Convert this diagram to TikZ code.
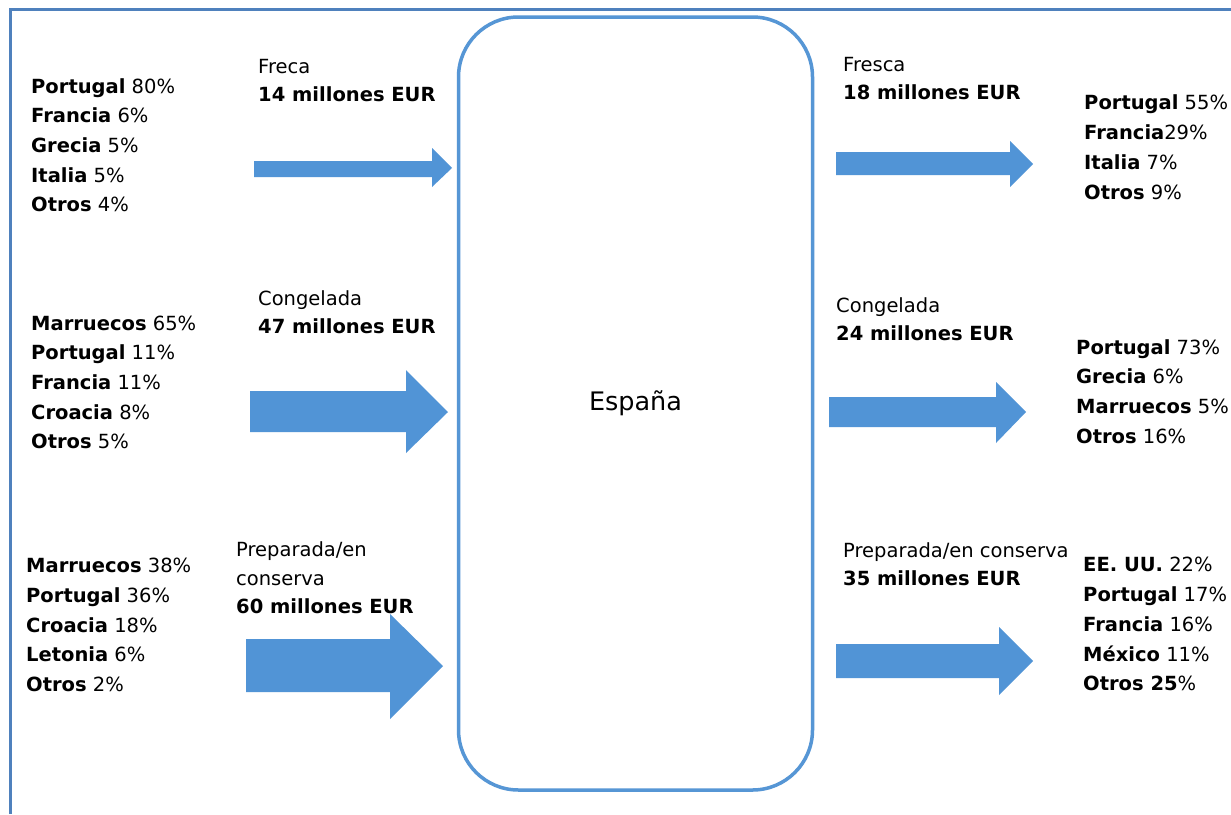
\documentclass[tikz,border=0pt]{standalone}
\usepackage{fontspec}
\setmainfont{DejaVu Sans}
\definecolor{framec}{RGB}{79,129,189}
\definecolor{boxc}{RGB}{86,150,213}
\definecolor{arrc}{RGB}{81,148,214}
\begin{document}
\begin{tikzpicture}[x=1pt,y=-1pt,
  lst/.style={anchor=base west,align=left,inner sep=0pt,font=\fontsize{19.5}{29.7}\selectfont},
  lbl/.style={anchor=base west,align=left,inner sep=0pt,font=\fontsize{19.5}{28}\selectfont},
  blockarrow/.style={fill=arrc,draw=none}]
\useasboundingbox (0,0) rectangle (1231,814);
\fill[white] (0,0) rectangle (1231,814);
% frame
\draw[framec,line width=3pt] (10,814) -- (10,9.5) -- (1231,9.5);
% central box
\node[draw=boxc,line width=3.5pt,rounded corners=60pt,minimum width=354pt,minimum height=773pt,inner sep=0pt,
  font=\fontsize{25.5}{30}\selectfont] (esp) at (635.5,403.5) {España};
% left arrows
\fill[blockarrow] (254,161) -- (432,161) -- (432,148) -- (452,168) -- (432,187) -- (432,177) -- (254,177) -- cycle;
\fill[blockarrow] (250,391) -- (406,391) -- (406,370) -- (448,412) -- (406,453) -- (406,432) -- (250,432) -- cycle;
\fill[blockarrow] (246,639) -- (390,639) -- (390,614) -- (443,666) -- (390,719) -- (390,692) -- (246,692) -- cycle;
% right arrows
\fill[blockarrow] (836,152) -- (1010,152) -- (1010,141) -- (1033,164) -- (1010,187) -- (1010,175) -- (836,175) -- cycle;
\fill[blockarrow] (829,397) -- (996,397) -- (996,382) -- (1026,412) -- (996,443) -- (996,427) -- (829,427) -- cycle;
\fill[blockarrow] (836,644) -- (999,644) -- (999,627) -- (1033,661) -- (999,695) -- (999,678) -- (836,678) -- cycle;
% left lists (anchor = baseline of last line)
\node[lst] (l1) at (31,211.8) {\textbf{Portugal} 80\%\\\textbf{Francia} 6\%\\\textbf{Grecia} 5\%\\\textbf{Italia} 5\%\\\textbf{Otros} 4\%};
\node[lst] (l2) at (31,448.8) {\textbf{Marruecos} 65\%\\\textbf{Portugal} 11\%\\\textbf{Francia} 11\%\\\textbf{Croacia} 8\%\\\textbf{Otros} 5\%};
\node[lst] (l3) at (26,691.5) {\textbf{Marruecos} 38\%\\\textbf{Portugal} 36\%\\\textbf{Croacia} 18\%\\\textbf{Letonia} 6\%\\\textbf{Otros} 2\%};
% left labels
\node[lbl] (t1) at (258,101) {Freca\\\textbf{14 millones EUR}};
\node[lbl] (t2) at (258,333.3) {Congelada\\\textbf{47 millones EUR}};
\node[lbl,font=\fontsize{19.5}{28.3}\selectfont] (t3) at (236,613.3) {Preparada/en\\conserva\\\textbf{60 millones EUR}};
% right labels
\node[lbl] (r1) at (843,99.3) {Fresca\\\textbf{18 millones EUR}};
\node[lbl] (r2) at (836,340) {Congelada\\\textbf{24 millones EUR}};
\node[lbl] (r3) at (843,585) {Preparada/en conserva\\\textbf{35 millones EUR}};
% right lists
\node[lst] (d1) at (1084,199) {\textbf{Portugal} 55\%\\\textbf{Francia}29\%\\\textbf{Italia} 7\%\\\textbf{Otros} 9\%};
\node[lst] (d2) at (1076,443.3) {\textbf{Portugal} 73\%\\\textbf{Grecia} 6\%\\\textbf{Marruecos} 5\%\\\textbf{Otros} 16\%};
\node[lst] (d3) at (1083,690.7) {\textbf{EE. UU.} 22\%\\\textbf{Portugal} 17\%\\\textbf{Francia} 16\%\\\textbf{México} 11\%\\\textbf{Otros 25}\%};
\end{tikzpicture}
\end{document}
